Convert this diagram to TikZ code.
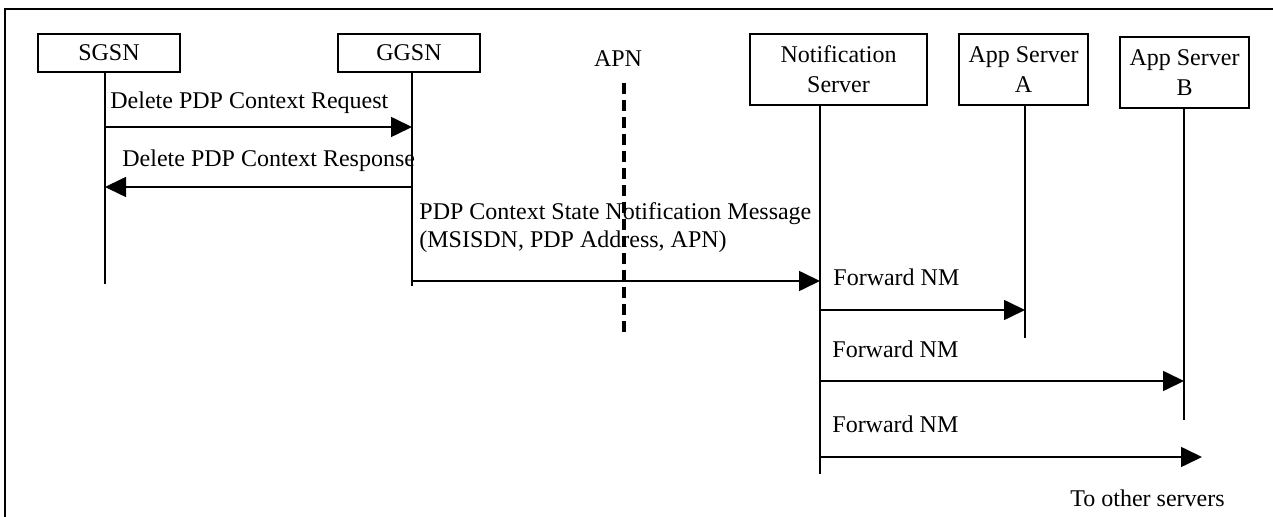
\documentclass[tikz,border=0pt]{standalone}
\usepackage{fontspec}
\setmainfont{Liberation Serif}
\usetikzlibrary{arrows.meta}
\tikzstyle{ent}=[draw=black,line width=1pt,inner sep=1pt,align=center,
  minimum width=71pt,minimum height=19pt,font=\fontsize{12}{15}\selectfont]
\tikzstyle{srv}=[ent,minimum width=64.5pt,minimum height=35.5pt]
\tikzstyle{life}=[line width=1pt]
\tikzstyle{msg}=[line width=0.8pt,-{Triangle[length=10.5pt,width=10pt]}]
\tikzstyle{lbl}=[anchor=base west,inner sep=0pt,font=\fontsize{12}{15}\selectfont]

\begin{document}
\begin{tikzpicture}[x=0.5pt,y=-0.5pt]
    \useasboundingbox (0,0) rectangle (1273,517);
    \draw [line width=0.9pt] (5,517) -- (5,9) -- (1273,9);
    % entities
    \node [style=ent] (sgsn) at (109,53) {SGSN};
    \node [style=ent] (ggsn) at (409,53) {GGSN};
    \node [style=srv,minimum width=88.5pt] (ns) at (838.5,69.5) {Notification\\Server};
    \node [style=srv] (asa) at (1023.5,69.5) {App Server\\A};
    \node [style=srv] (asb) at (1184.5,72.5) {App Server\\B};
    \node [lbl,anchor=base] (apn) at (618,67) {APN};
    % lifelines
    \coordinate (sgsn0) at (105,72);
    \coordinate (sgsn1) at (105,284);
    \coordinate (ggsn0) at (412,73);
    \coordinate (ggsn1) at (412,286);
    \coordinate (ns0) at (820,105);
    \coordinate (ns1) at (820,474);
    \coordinate (asa0) at (1025,105);
    \coordinate (asa1) at (1025,338);
    \coordinate (asb0) at (1184,108);
    \coordinate (asb1) at (1184,420);
    \coordinate (apn0) at (624,83);
    \coordinate (apn1) at (624,333);
    \draw [style=life] (sgsn0) to (sgsn1);
    \draw [style=life] (ggsn0) to (ggsn1);
    \draw [style=life] (ns0) to (ns1);
    \draw [style=life] (asa0) to (asa1);
    \draw [style=life] (asb0) to (asb1);
    \draw [line width=1.6pt,dash pattern=on 5.5pt off 3pt] (apn0) to (apn1);
    % messages
    \coordinate (m1a) at (105,127);
    \coordinate (m1b) at (412,127);
    \coordinate (m2a) at (412,187);
    \coordinate (m2b) at (105,187);
    \coordinate (m3a) at (412,281);
    \coordinate (m3b) at (820,281);
    \coordinate (m4a) at (820,310);
    \coordinate (m4b) at (1025,310);
    \coordinate (m5a) at (820,381);
    \coordinate (m5b) at (1184,381);
    \coordinate (m6a) at (820,457);
    \coordinate (m6b) at (1202,457);
    \draw [style=msg] (m1a) to (m1b);
    \draw [style=msg] (m2a) to (m2b);
    \draw [style=msg] (m3a) to (m3b);
    \draw [style=msg] (m4a) to (m4b);
    \draw [style=msg] (m5a) to (m5b);
    \draw [style=msg] (m6a) to (m6b);
    % labels
    \node [lbl] (l1) at (110,109) {Delete PDP Context Request};
    \node [lbl] (l2) at (122,167) {Delete PDP Context Response};
    \node [lbl] (l3) at (419,220) {PDP Context State Notification Message};
    \node [lbl] (l3b) at (419,248) {(MSISDN, PDP Address, APN)};
    \node [lbl] (l4) at (833,286) {Forward NM};
    \node [lbl] (l5) at (832,358) {Forward NM};
    \node [lbl] (l6) at (832,433) {Forward NM};
    \node [lbl] (l7) at (1070,507) {To other servers};
\end{tikzpicture}
\end{document}
